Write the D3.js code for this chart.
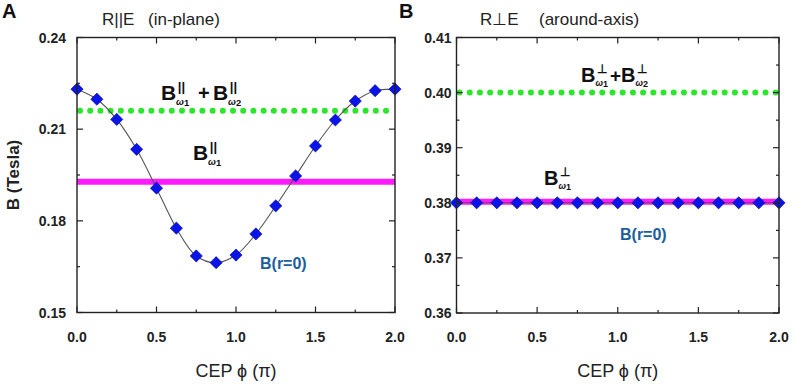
<!DOCTYPE html>
<html>
<head>
<meta charset="utf-8">
<script src="https://cdn.jsdelivr.net/npm/d3@7"></script>
<style>
  body { margin: 0; background: #fff; }
  svg { display: block; }
  text { font-family: Arial, "Liberation Sans", sans-serif; }
</style>
</head>
<body>
<div id="chart"></div>
<script>
// CEP phase, in units of pi
const phi = [0, 0.125, 0.25, 0.375, 0.5, 0.625, 0.75, 0.875, 1.0, 1.125, 1.25, 1.375, 1.5, 1.625, 1.75, 1.875, 2.0];
// B(r=0), in-plane (Tesla)
const bParallel = [0.2231, 0.2198, 0.2132, 0.2034, 0.1907, 0.1776, 0.1685, 0.1663, 0.1688, 0.1757, 0.1849, 0.1947, 0.2045, 0.2130, 0.2192, 0.2226, 0.2231];
// B(r=0), around-axis (Tesla)
const bPerp = [0.38, 0.38, 0.38, 0.38, 0.38, 0.38, 0.38, 0.38, 0.38, 0.38, 0.38, 0.38, 0.38, 0.38, 0.38, 0.38, 0.38];
// reference levels: [sum of both, first only]
const levelsParallel = [0.2160, 0.1928];
const levelsPerp = [0.4000, 0.3802];
const xTicks = [0, 0.5, 1.0, 1.5, 2.0];
const yTicksA = [0.15, 0.18, 0.21, 0.24];
const yTicksB = [0.36, 0.37, 0.38, 0.39, 0.40, 0.41];

const W = 796, H = 384;
const svg = d3.select('#chart').append('svg').attr('width', W).attr('height', H);

function drawPanel(cfg) {
    const x = d3.scaleLinear().domain([0, 2]).range([cfg.left, cfg.right]);
    const y = d3.scaleLinear().domain(cfg.yDomain).range([cfg.bottom, cfg.top]);
    const g = svg.append('g');

    // reference levels
    g.append('line')
        .attr('x1', x(0)).attr('x2', x(2))
        .attr('y1', y(cfg.levels[1])).attr('y2', y(cfg.levels[1]))
        .attr('stroke', '#ff1aff').attr('stroke-width', 6);
    g.append('line')
        .attr('x1', x(0) + 3).attr('x2', x(2))
        .attr('y1', y(cfg.levels[0])).attr('y2', y(cfg.levels[0]))
        .attr('stroke', '#2be62b').attr('stroke-width', 6)
        .attr('stroke-linecap', 'round').attr('stroke-dasharray', '0 10.2');

    // connecting curve
    const line = d3.line()
        .x((d, i) => x(phi[i]))
        .y(d => y(d))
        .curve(d3.curveCatmullRom);
    g.append('path')
        .attr('d', line(cfg.values))
        .attr('fill', 'none').attr('stroke', '#555').attr('stroke-width', 1.1);

    // diamond markers
    const diamond = d3.symbol().type(d3.symbolDiamond2).size(95);
    g.selectAll('path.pt').data(cfg.values).enter()
        .append('path').attr('class', 'pt')
        .attr('d', diamond)
        .attr('transform', (d, i) => `translate(${x(phi[i])},${y(d)})`)
        .attr('fill', '#0a14e6').attr('stroke', '#0000a0').attr('stroke-width', 0.6);

    // frame
    g.append('rect')
        .attr('x', cfg.left).attr('y', cfg.top)
        .attr('width', cfg.right - cfg.left).attr('height', cfg.bottom - cfg.top)
        .attr('fill', 'none').attr('stroke', '#222').attr('stroke-width', 1.4);

    // ticks (inward, all four sides)
    const xMinor = d3.range(0, 2.0001, 0.25);
    const yMinor = d3.range(cfg.yDomain[0], cfg.yDomain[1] + 1e-9, cfg.yMinorStep);
    const tk = g.append('g').attr('stroke', '#222').attr('stroke-width', 1.2);
    xMinor.forEach(v => {
        const len = Math.abs(v * 2 - Math.round(v * 2)) < 1e-6 ? 6 : 3;
        tk.append('line').attr('x1', x(v)).attr('x2', x(v)).attr('y1', cfg.bottom).attr('y2', cfg.bottom - len);
        tk.append('line').attr('x1', x(v)).attr('x2', x(v)).attr('y1', cfg.top).attr('y2', cfg.top + len);
    });
    yMinor.forEach(v => {
        const major = cfg.yTicks.some(t => Math.abs(t - v) < 1e-6);
        const len = major ? 6 : 3;
        tk.append('line').attr('x1', cfg.left).attr('x2', cfg.left + len).attr('y1', y(v)).attr('y2', y(v));
        tk.append('line').attr('x1', cfg.right).attr('x2', cfg.right - len).attr('y1', y(v)).attr('y2', y(v));
    });

    // tick labels
    g.selectAll('text.xt').data(xTicks).enter().append('text')
        .attr('x', d => x(d)).attr('y', 342)
        .attr('text-anchor', 'middle').attr('font-size', 14).attr('font-weight', 'bold')
        .attr('fill', '#222').text(d => d.toFixed(1));
    g.selectAll('text.yt').data(cfg.yTicks).enter().append('text')
        .attr('x', cfg.left - cfg.yLabelGap).attr('y', d => y(d) + 5)
        .attr('text-anchor', 'end').attr('font-size', 14).attr('font-weight', 'bold')
        .attr('fill', '#222').text(d => d.toFixed(2));

    // axis title
    g.append('text')
        .attr('x', (cfg.left + cfg.right) / 2).attr('y', 377)
        .attr('text-anchor', 'middle').attr('font-size', 18).attr('fill', '#222')
        .text('CEP ϕ  (π)');

    // panel letter and title (two parts, wide gap as in the original)
    g.append('text').attr('x', cfg.letterX).attr('y', 18)
        .attr('font-size', 20).attr('font-weight', 'bold').attr('fill', '#111').text(cfg.letter);
    g.append('text').attr('x', cfg.titleX[0]).attr('y', 25)
        .attr('font-size', 17).attr('fill', '#222').text(cfg.title[0]);
    g.append('text').attr('x', cfg.titleX[1]).attr('y', 25)
        .attr('font-size', 17).attr('fill', '#222').text(cfg.title[1]);

    // B(r=0) label
    g.append('text').attr('x', cfg.rLabel[0]).attr('y', cfg.rLabel[1])
        .attr('font-size', 16).attr('font-weight', 'bold').attr('fill', '#1b5e9e')
        .text('B(r=0)');

    return { x, y, g };
}

// B with super/subscript, serif like the original
function bSym(g, px, py, sup, sub, size) {
    const t = g.append('g').attr('font-family', '"Liberation Serif", "Times New Roman", serif')
        .attr('font-weight', 'bold').attr('fill', '#111');
    t.append('text').attr('x', px).attr('y', py).attr('font-size', size).text('B');
    t.append('text').attr('x', px + size * 0.8).attr('y', py - size * 0.45)
        .attr('font-size', size * 0.62).text(sup);
    const s = t.append('text').attr('x', px + size * 0.72).attr('y', py + size * 0.22)
        .attr('font-size', size * 0.45).attr('font-style', 'italic');
    s.append('tspan').text('ω');
    s.append('tspan').attr('font-style', 'normal').attr('dy', 1).text(sub);
}

const pA = drawPanel({
    left: 77, right: 395, top: 37.5, bottom: 312.5,
    yDomain: [0.15, 0.24], yTicks: yTicksA, yMinorStep: 0.015, yLabelGap: 11,
    values: bParallel, levels: levelsParallel,
    letter: 'A', letterX: 2, title: ['R||E', '(in-plane)'], titleX: [102, 148],
    rLabel: [260, 269]
});
const pB = drawPanel({
    left: 456.5, right: 779, top: 37.5, bottom: 313,
    yDomain: [0.36, 0.41], yTicks: yTicksB, yMinorStep: 0.005, yLabelGap: 5,
    values: bPerp, levels: levelsPerp,
    letter: 'B', letterX: 399, title: ['R⊥E', '(around-axis)'], titleX: [480, 539],
    rLabel: [620, 240]
});

// y axis title (left panel only)
svg.append('text')
    .attr('transform', 'translate(19,175) rotate(-90)')
    .attr('text-anchor', 'middle').attr('font-size', 17).attr('font-weight', 'bold')
    .attr('fill', '#222').text('B (Tesla)');

// level annotations
bSym(pA.g, 161, 100, '||', '1', 21);
pA.g.append('text').attr('x', 198).attr('y', 100)
    .attr('font-family', '"Liberation Serif", serif').attr('font-weight', 'bold')
    .attr('font-size', 20).attr('fill', '#111').text('+');
bSym(pA.g, 213, 100, '||', '2', 21);
bSym(pA.g, 193, 160, '||', '1', 21);

bSym(pB.g, 581, 82, '⊥', '1', 20);
pB.g.append('text').attr('x', 610).attr('y', 82)
    .attr('font-family', '"Liberation Serif", serif').attr('font-weight', 'bold')
    .attr('font-size', 19).attr('fill', '#111').text('+');
bSym(pB.g, 621, 82, '⊥', '2', 20);
bSym(pB.g, 544, 185, '⊥', '1', 20);
</script>
</body>
</html>
